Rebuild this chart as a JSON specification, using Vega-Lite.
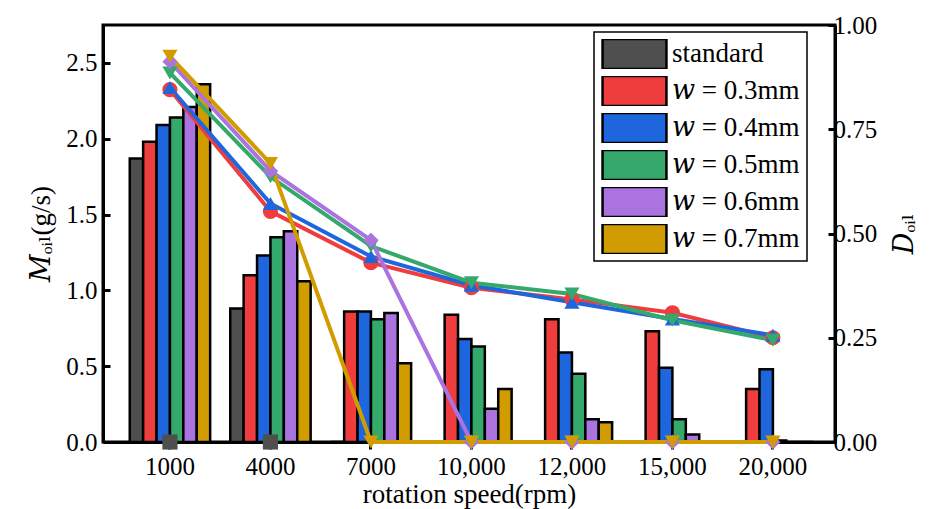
{
  "$schema": "https://vega.github.io/schema/vega-lite/v6.json",
  "width": 732,
  "height": 417,
  "autosize": {"type": "none"},
  "padding": {"left": 103, "top": 25, "right": 94, "bottom": 67},
  "background": "white",
  "config": {
    "font": "Liberation Serif",
    "view": {"stroke": "black", "strokeWidth": 3},
    "axis": {
      "grid": false,
      "domainColor": "black",
      "domainWidth": 3,
      "tickColor": "black",
      "tickWidth": 3,
      "labelColor": "black",
      "titleColor": "black",
      "labelFont": "Liberation Serif",
      "titleFont": "Liberation Serif, DejaVu Serif",
      "titleFontWeight": "normal",
      "labelFontSize": 25,
      "titleFontSize": 27,
      "zindex": 1
    }
  },
  "datasets": {
    "bars": [
      {"speed": "1000", "series": "standard", "M": 1.87},
      {"speed": "4000", "series": "standard", "M": 0.88},
      {"speed": "7000", "series": "standard", "M": 0},
      {"speed": "10,000", "series": "standard", "M": 0},
      {"speed": "12,000", "series": "standard", "M": 0},
      {"speed": "15,000", "series": "standard", "M": 0},
      {"speed": "20,000", "series": "standard", "M": 0},
      {"speed": "1000", "series": "𝑤 = 0.3mm", "M": 1.98},
      {"speed": "4000", "series": "𝑤 = 0.3mm", "M": 1.10},
      {"speed": "7000", "series": "𝑤 = 0.3mm", "M": 0.86},
      {"speed": "10,000", "series": "𝑤 = 0.3mm", "M": 0.84},
      {"speed": "12,000", "series": "𝑤 = 0.3mm", "M": 0.81},
      {"speed": "15,000", "series": "𝑤 = 0.3mm", "M": 0.73},
      {"speed": "20,000", "series": "𝑤 = 0.3mm", "M": 0.35},
      {"speed": "1000", "series": "𝑤 = 0.4mm", "M": 2.09},
      {"speed": "4000", "series": "𝑤 = 0.4mm", "M": 1.23},
      {"speed": "7000", "series": "𝑤 = 0.4mm", "M": 0.86},
      {"speed": "10,000", "series": "𝑤 = 0.4mm", "M": 0.68},
      {"speed": "12,000", "series": "𝑤 = 0.4mm", "M": 0.59},
      {"speed": "15,000", "series": "𝑤 = 0.4mm", "M": 0.49},
      {"speed": "20,000", "series": "𝑤 = 0.4mm", "M": 0.48},
      {"speed": "1000", "series": "𝑤 = 0.5mm", "M": 2.14},
      {"speed": "4000", "series": "𝑤 = 0.5mm", "M": 1.35},
      {"speed": "7000", "series": "𝑤 = 0.5mm", "M": 0.81},
      {"speed": "10,000", "series": "𝑤 = 0.5mm", "M": 0.63},
      {"speed": "12,000", "series": "𝑤 = 0.5mm", "M": 0.45},
      {"speed": "15,000", "series": "𝑤 = 0.5mm", "M": 0.15},
      {"speed": "20,000", "series": "𝑤 = 0.5mm", "M": 0.01},
      {"speed": "1000", "series": "𝑤 = 0.6mm", "M": 2.21},
      {"speed": "4000", "series": "𝑤 = 0.6mm", "M": 1.39},
      {"speed": "7000", "series": "𝑤 = 0.6mm", "M": 0.85},
      {"speed": "10,000", "series": "𝑤 = 0.6mm", "M": 0.22},
      {"speed": "12,000", "series": "𝑤 = 0.6mm", "M": 0.15},
      {"speed": "15,000", "series": "𝑤 = 0.6mm", "M": 0.05},
      {"speed": "20,000", "series": "𝑤 = 0.6mm", "M": 0},
      {"speed": "1000", "series": "𝑤 = 0.7mm", "M": 2.36},
      {"speed": "4000", "series": "𝑤 = 0.7mm", "M": 1.06},
      {"speed": "7000", "series": "𝑤 = 0.7mm", "M": 0.52},
      {"speed": "10,000", "series": "𝑤 = 0.7mm", "M": 0.35},
      {"speed": "12,000", "series": "𝑤 = 0.7mm", "M": 0.13},
      {"speed": "15,000", "series": "𝑤 = 0.7mm", "M": 0},
      {"speed": "20,000", "series": "𝑤 = 0.7mm", "M": 0}
    ],
    "lines": [
      {"speed": "1000", "w": "standard", "D": 0},
      {"speed": "4000", "w": "standard", "D": 0},
      {"speed": "1000", "w": "0.3", "D": 0.845},
      {"speed": "4000", "w": "0.3", "D": 0.553},
      {"speed": "7000", "w": "0.3", "D": 0.43},
      {"speed": "10,000", "w": "0.3", "D": 0.37},
      {"speed": "12,000", "w": "0.3", "D": 0.342},
      {"speed": "15,000", "w": "0.3", "D": 0.31},
      {"speed": "20,000", "w": "0.3", "D": 0.25},
      {"speed": "1000", "w": "0.4", "D": 0.85},
      {"speed": "4000", "w": "0.4", "D": 0.572},
      {"speed": "7000", "w": "0.4", "D": 0.445},
      {"speed": "10,000", "w": "0.4", "D": 0.376},
      {"speed": "12,000", "w": "0.4", "D": 0.335},
      {"speed": "15,000", "w": "0.4", "D": 0.295},
      {"speed": "20,000", "w": "0.4", "D": 0.256},
      {"speed": "1000", "w": "0.5", "D": 0.885},
      {"speed": "4000", "w": "0.5", "D": 0.636},
      {"speed": "7000", "w": "0.5", "D": 0.47},
      {"speed": "10,000", "w": "0.5", "D": 0.382},
      {"speed": "12,000", "w": "0.5", "D": 0.355},
      {"speed": "15,000", "w": "0.5", "D": 0.292},
      {"speed": "20,000", "w": "0.5", "D": 0.244},
      {"speed": "1000", "w": "0.6", "D": 0.912},
      {"speed": "4000", "w": "0.6", "D": 0.65},
      {"speed": "7000", "w": "0.6", "D": 0.484},
      {"speed": "10,000", "w": "0.6", "D": 0},
      {"speed": "12,000", "w": "0.6", "D": 0},
      {"speed": "15,000", "w": "0.6", "D": 0},
      {"speed": "20,000", "w": "0.6", "D": 0},
      {"speed": "1000", "w": "0.7", "D": 0.925},
      {"speed": "4000", "w": "0.7", "D": 0.668},
      {"speed": "7000", "w": "0.7", "D": 0},
      {"speed": "10,000", "w": "0.7", "D": 0},
      {"speed": "12,000", "w": "0.7", "D": 0},
      {"speed": "15,000", "w": "0.7", "D": 0},
      {"speed": "20,000", "w": "0.7", "D": 0}
    ]
  },
  "layer": [
    {
      "data": {"name": "bars"},
      "mark": {"type": "bar", "stroke": "black", "strokeWidth": 2.5},
      "encoding": {
        "x": {
          "field": "speed", "type": "nominal",
          "sort": ["1000", "4000", "7000", "10,000", "12,000", "15,000", "20,000"],
          "scale": {"paddingInner": 0.2, "paddingOuter": 0.242, "align": 0.55},
          "axis": {"title": "rotation speed(rpm)", "labelAngle": 0, "tickSize": 7, "labelPadding": 5, "titlePadding": 2}
        },
        "xOffset": {
          "field": "series", "type": "nominal",
          "sort": ["standard", "𝑤 = 0.3mm", "𝑤 = 0.4mm", "𝑤 = 0.5mm", "𝑤 = 0.6mm", "𝑤 = 0.7mm"],
          "scale": {"paddingInner": 0, "paddingOuter": 0}
        },
        "y": {
          "field": "M", "type": "quantitative",
          "scale": {"domain": [0, 2.75], "nice": false},
          "axis": {"title": "𝑀ₒᵢₗ(g/s)", "values": [0, 0.5, 1, 1.5, 2, 2.5], "format": ".1f", "tickSize": -7, "labelPadding": 13, "titlePadding": 10}
        },
        "fill": {
          "field": "series", "type": "nominal",
          "scale": {
            "domain": ["standard", "𝑤 = 0.3mm", "𝑤 = 0.4mm", "𝑤 = 0.5mm", "𝑤 = 0.6mm", "𝑤 = 0.7mm"],
            "range": ["#4f4f4f", "#ef3d3d", "#1e66de", "#35a86b", "#ab73e0", "#d19c00"]
          },
          "legend": {
            "title": null, "orient": "none", "legendX": 491, "legendY": 7,
            "symbolType": "M-2.13,-1H2.13V1H-2.13Z", "symbolSize": 900,
            "symbolOffset": 17, "clipHeight": 30,
            "symbolStrokeColor": "black", "symbolStrokeWidth": 2.5, "symbolOpacity": 1,
            "labelFont": "Liberation Serif, DejaVu Serif", "labelFontSize": 27, "labelColor": "black",
            "labelOffset": 21, "rowPadding": 7, "padding": 7, "labelLimit": 300,
            "strokeColor": "black", "fillColor": "white",
            "encode": {"legend": {"update": {"strokeWidth": {"value": 1.5}}}}
          }
        }
      }
    },
    {
      "data": {"name": "lines"},
      "encoding": {
        "x": {"field": "speed", "type": "nominal", "sort": ["1000", "4000", "7000", "10,000", "12,000", "15,000", "20,000"]},
        "y": {
          "field": "D", "type": "quantitative",
          "scale": {"domain": [0, 1], "nice": false},
          "axis": {"orient": "right", "title": "𝐷ₒᵢₗ", "values": [0, 0.25, 0.5, 0.75, 1], "format": ".2f", "tickSize": -7, "labelPadding": 5, "titlePadding": 15, "titleAngle": 270, "titleBaseline": "top"}
        }
      },
      "layer": [
        {
          "transform": [{"filter": "datum.w != 'standard'"}],
          "mark": {"type": "line", "strokeWidth": 4},
          "encoding": {
            "stroke": {
              "field": "w", "type": "nominal", "legend": null,
              "scale": {
                "domain": ["standard", "0.3", "0.4", "0.5", "0.6", "0.7"],
                "range": ["#4f4f4f", "#ef3d3d", "#1e66de", "#35a86b", "#ab73e0", "#d19c00"]
              }
            }
          }
        },
        {
          "mark": {"type": "point", "filled": true, "size": 230, "opacity": 1},
          "encoding": {
            "color": {
              "field": "w", "type": "nominal", "legend": null,
              "scale": {
                "domain": ["standard", "0.3", "0.4", "0.5", "0.6", "0.7"],
                "range": ["#4f4f4f", "#ef3d3d", "#1e66de", "#35a86b", "#ab73e0", "#d19c00"]
              }
            },
            "shape": {
              "field": "w", "type": "nominal", "legend": null,
              "scale": {
                "domain": ["standard", "0.3", "0.4", "0.5", "0.6", "0.7"],
                "range": ["square", "circle", "triangle-up", "triangle-down", "diamond", "triangle-down"]
              }
            }
          }
        }
      ]
    }
  ],
  "resolve": {"scale": {"y": "independent"}}
}
